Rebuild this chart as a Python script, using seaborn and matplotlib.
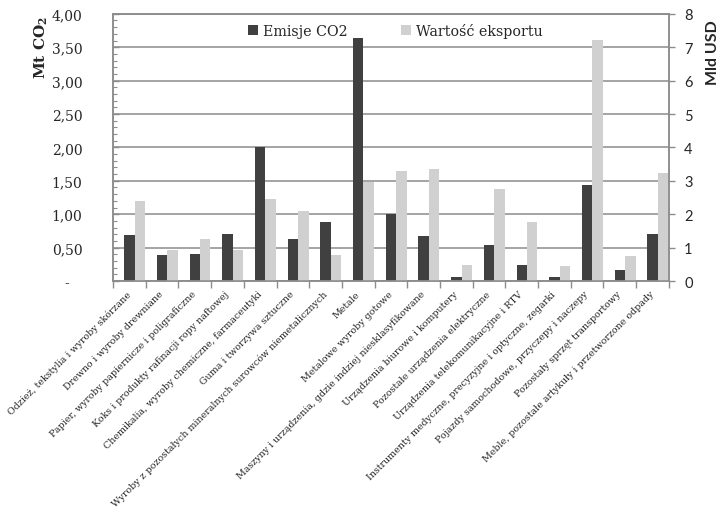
import numpy as np
import pandas as pd
import matplotlib
matplotlib.use("Agg")
import matplotlib.pyplot as plt
import seaborn as sns
from matplotlib.patches import Patch
from matplotlib.ticker import FuncFormatter, MultipleLocator

# Branże przetwórstwa przemysłowego
categories = [
    "Odzież, tekstylia i wyroby skórzane",
    "Drewno i wyroby drewniane",
    "Papier, wyroby papiernicze i poligraficzne",
    "Koks i produkty rafinacji ropy naftowej",
    "Chemikalia, wyroby chemiczne, farmaceutyki",
    "Guma i tworzywa sztuczne",
    "Wyroby z pozostałych mineralnych surowców niemetalicznych",
    "Metale",
    "Metalowe wyroby gotowe",
    "Maszyny i urządzenia, gdzie indziej niesklasyfikowane",
    "Urządzenia biurowe i komputery",
    "Pozostałe urządzenia elektryczne",
    "Urządzenia telekomunikacyjne i RTV",
    "Instrumenty medyczne, precyzyjne i optyczne, zegarki",
    "Pojazdy samochodowe, przyczepy i naczepy",
    "Pozostały sprzęt transportowy",
    "Meble, pozostałe artykuły i przetworzone odpady",
]

# Emisje CO2 [Mt CO2] - oś lewa
emisje_co2 = [0.69, 0.39, 0.40, 0.70, 2.01, 0.63, 0.89, 3.64, 1.00,
              0.68, 0.065, 0.54, 0.24, 0.065, 1.43, 0.17, 0.70]

# Wartość eksportu [mld USD] - oś prawa
eksport = [2.40, 0.92, 1.26, 0.94, 2.46, 2.10, 0.78, 2.97, 3.28,
           3.35, 0.49, 2.75, 1.77, 0.45, 7.22, 0.75, 3.24]

left_ticks = [0.0, 0.5, 1.0, 1.5, 2.0, 2.5, 3.0, 3.5, 4.0]
right_ticks = [0, 1, 2, 3, 4, 5, 6, 7, 8]

SERIES_E = "Emisje CO2"
SERIES_W = "Wartość eksportu"
SPACER = " "
hue_levels = [SPACER, SERIES_E, SERIES_W]
palette = {SPACER: "#ffffff", SERIES_E: "#404040", SERIES_W: "#d0d0d0"}
GRID = "#8c8c8c"

sns.set_theme(style="white")
plt.rcParams["font.family"] = ["DejaVu Serif"]
plt.rcParams["mathtext.fontset"] = "dejavuserif"

fig = plt.figure(figsize=(7.2, 5.1), dpi=100)
ax = fig.add_axes([0.157, 0.447, 0.772, 0.524])
ax2 = ax.twinx()

df_e = pd.DataFrame({"kategoria": categories, "seria": SERIES_E, "wartosc": emisje_co2})
df_w = pd.DataFrame({"kategoria": categories, "seria": SERIES_W, "wartosc": eksport})

common = dict(x="kategoria", y="wartosc", hue="seria", hue_order=hue_levels,
              palette=palette, width=0.96, dodge=True, saturation=1,
              legend=False, errorbar=None, linewidth=0)
sns.barplot(data=df_e, ax=ax, **common)
sns.barplot(data=df_w, ax=ax2, **common)

n = len(categories)
ax.set_xlim(-0.5, n - 0.5)

# left axis: Mt CO2
ax.set_ylim(0, 4)
ax.set_yticks(left_ticks)
ax.yaxis.set_major_formatter(FuncFormatter(
    lambda v, p: "-   " if v == 0 else f"{v:.2f}".replace(".", ",")))
ax.yaxis.set_minor_locator(MultipleLocator(0.1))
ax.tick_params(axis="y", which="major", direction="in", length=4, width=1,
               color=GRID, pad=22, labelsize=10)
ax.tick_params(axis="y", which="minor", direction="in", length=3, width=0.8,
               color=GRID, left=True)
ax.yaxis.grid(True, color=GRID, linewidth=1.1)
ax.set_axisbelow(True)

# category labels and boundary ticks
ax.set_xticks(range(n))
ax.set_xticklabels(categories, rotation=45, ha="right", va="center",
                   rotation_mode="anchor", fontsize=6.8)
ax.set_xticks(np.arange(n + 1) - 0.5, minor=True)
ax.tick_params(axis="x", which="major", length=0, pad=8)
ax.tick_params(axis="x", which="minor", direction="out", length=5,
               width=1, color=GRID, bottom=True)
ax.set_xlabel("")

ax.set_ylabel("Mt CO$_{\\mathbf{2}}$", fontweight="bold", fontsize=11)
ax.yaxis.set_label_coords(-0.113, 0.876)

# right axis: mld USD
ax2.set_ylim(0, 8)
ax2.set_yticks(right_ticks)
ax2.tick_params(axis="y", which="major", direction="out", length=4, width=1,
                color=GRID, pad=7, labelsize=10.5)
for lab in ax2.get_yticklabels():
    lab.set_family("Lato")
ax2.grid(False)
ax2.set_ylabel("Mld USD", fontweight="bold", fontsize=11.5, family="Lato")
ax2.yaxis.set_label_coords(1.066, 0.86)

for a in (ax, ax2):
    for s in a.spines.values():
        s.set_color(GRID)
        s.set_linewidth(1.1)

handles = [Patch(facecolor=palette[SERIES_E], edgecolor="none"),
           Patch(facecolor=palette[SERIES_W], edgecolor="none")]
ax2.legend(handles, [SERIES_E, SERIES_W], loc="center",
           bbox_to_anchor=(0.508, 0.936), ncol=2, frameon=False,
           fontsize=10.3, handlelength=0.7, handleheight=0.7,
           handletextpad=0.35, columnspacing=3.7)

fig.savefig("out.png", dpi=100)
